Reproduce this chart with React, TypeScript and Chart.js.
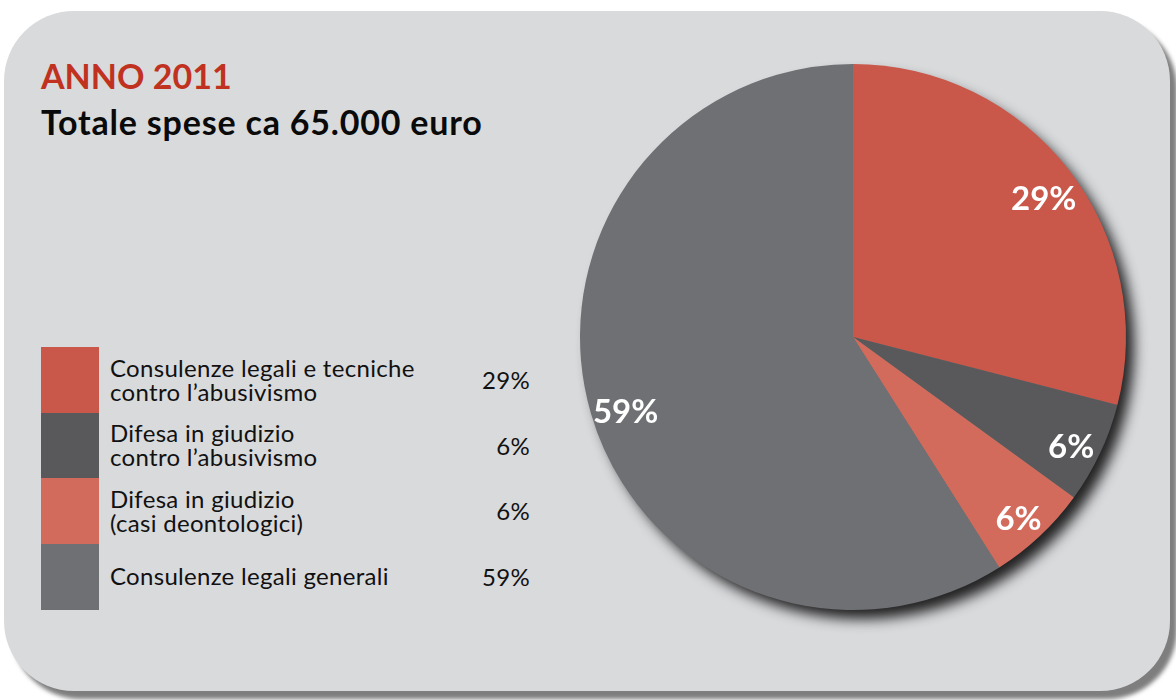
import React, { useEffect, useRef } from "react";
import { Chart, registerables } from "chart.js";

Chart.register(...registerables);

const titleYear = "ANNO 2011";
const titleTotal = "Totale spese ca 65.000 euro";
const categories: string[][] = [
  ["Consulenze legali e tecniche", "contro l\u2019abusivismo"],
  ["Difesa in giudizio", "contro l\u2019abusivismo"],
  ["Difesa in giudizio", "(casi deontologici)"],
  ["Consulenze legali generali"],
];
const values = [29, 6, 6, 59];
const colors = ["#c9574a", "#59595b", "#d36b5d", "#6f7073"];

const FONT = "Lato, 'Open Sans', sans-serif";

const shadowPlugin = {
  id: "pieShadow",
  beforeDatasetsDraw(chart: any) {
    const meta = chart.getDatasetMeta(0);
    const arc = meta.data[0];
    if (!arc) return;
    const { x, y, outerRadius } = arc.getProps(["x", "y", "outerRadius"], true);
    const ctx = chart.ctx;
    ctx.save();
    ctx.shadowColor = "rgba(34,34,35,1)";
    ctx.shadowBlur = 13;
    ctx.shadowOffsetX = 9;
    ctx.shadowOffsetY = 10;
    ctx.fillStyle = "#6f7073";
    ctx.beginPath();
    ctx.arc(x, y, outerRadius - 1, 0, Math.PI * 2);
    ctx.fill();
    ctx.restore();
  },
};

const labelPlugin = {
  id: "pieLabels",
  afterDatasetsDraw(chart: any) {
    const meta = chart.getDatasetMeta(0);
    const ctx = chart.ctx;
    ctx.save();
    ctx.fillStyle = "#ffffff";
    ctx.font = `bold 33px ${FONT}`;
    ctx.textAlign = "center";
    ctx.textBaseline = "alphabetic";
    meta.data.forEach((el: any, i: number) => {
      const { x, y, startAngle, endAngle, outerRadius } = el.getProps(
        ["x", "y", "startAngle", "endAngle", "outerRadius"],
        true
      );
      const mid = (startAngle + endAngle) / 2;
      const r = outerRadius * 0.875;
      ctx.fillText(values[i] + "%", x + Math.cos(mid) * r + 2, y + Math.sin(mid) * r + 19);
    });
    ctx.restore();
  },
};

export default function App() {
  const ref = useRef<HTMLCanvasElement | null>(null);
  useEffect(() => {
    if (!ref.current) return;
    const chart = new Chart(ref.current, {
      type: "pie",
      data: {
        labels: categories.map((c) => c.join(" ")),
        datasets: [
          {
            data: values,
            backgroundColor: colors,
            borderWidth: 0,
          },
        ],
      },
      options: {
        animation: false,
        responsive: false,
        maintainAspectRatio: false,
        layout: { padding: 27 },
        plugins: {
          legend: { display: false },
          tooltip: { enabled: false },
        },
      },
      plugins: [shadowPlugin, labelPlugin],
    });
    return () => chart.destroy();
  }, []);

  const rowTop = 347;
  const rowH = 65.5;

  return (
    <div
      style={{
        position: "fixed",
        left: 0,
        top: 0,
        width: 1176,
        height: 700,
        background: "#ffffff",
        overflow: "hidden",
        fontFamily: FONT,
      }}
    >
      <div
        style={{
          position: "absolute",
          left: 4,
          top: 11,
          width: 1166,
          height: 680,
          borderRadius: 70,
          background: "#d9dadc",
          boxShadow: "7px 8px 4px #7e7e7e",
        }}
      />
      <div
        style={{
          position: "absolute",
          left: 41,
          top: 54,
          fontSize: 34,
          fontWeight: 700,
          color: "#c0321f",
          lineHeight: "44px",
          whiteSpace: "nowrap",
        }}
      >
        {titleYear}
      </div>
      <div
        style={{
          position: "absolute",
          left: 41,
          top: 100,
          fontSize: 34,
          fontWeight: 700,
          color: "#0a0a0a",
          lineHeight: "44px",
          whiteSpace: "nowrap",
          letterSpacing: "0.8px",
        }}
      >
        {titleTotal}
      </div>
      {categories.map((lines, i) => (
        <React.Fragment key={i}>
          <div
            style={{
              position: "absolute",
              left: 41,
              top: rowTop + i * rowH,
              width: 58,
              height: rowH + 0.5,
              background: colors[i],
            }}
          />
          <div
            style={{
              position: "absolute",
              left: 110,
              top: rowTop + i * rowH,
              height: rowH,
              display: "flex",
              flexDirection: "column",
              justifyContent: "center",
              fontSize: 24,
              lineHeight: "24px",
              color: "#111111",
              whiteSpace: "nowrap",
              letterSpacing: "0.3px",
            }}
          >
            {lines.map((l, j) => (
              <div key={j}>{l}</div>
            ))}
          </div>
          <div
            style={{
              position: "absolute",
              right: 1176 - 530,
              top: rowTop + i * rowH,
              height: rowH,
              display: "flex",
              alignItems: "center",
              fontSize: 24,
              letterSpacing: "0.3px",
              color: "#111111",
            }}
          >
            {values[i]}%
          </div>
        </React.Fragment>
      ))}
      <canvas
        ref={ref}
        width={600}
        height={600}
        style={{ position: "absolute", left: 553, top: 37, width: 600, height: 600 }}
      />
    </div>
  );
}
